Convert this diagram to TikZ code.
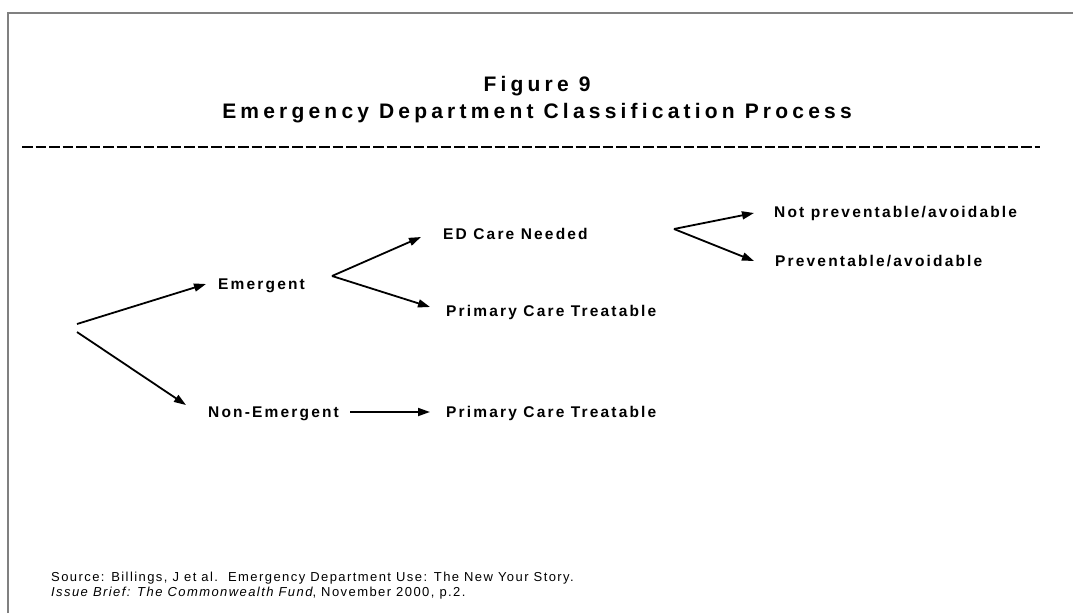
\documentclass[tikz,border=0pt]{standalone}
\usepackage{fontspec}
\setmainfont{Liberation Sans}
\newfontfamily\labfont[LetterSpace=14]{Liberation Sans}
\newfontfamily\titfont[LetterSpace=20]{Liberation Sans}
\newfontfamily\srcfont[LetterSpace=11]{Liberation Sans}
\usetikzlibrary{arrows.meta}
\begin{document}
\begin{tikzpicture}[x=1pt,y=-1pt,
  lab/.style={anchor=base west,inner sep=0pt,font=\labfont\bfseries\fontsize{15.5}{18}\selectfont},
  tit/.style={anchor=center,inner sep=0pt,font=\titfont\bfseries\fontsize{21}{25}\selectfont},
  src/.style={anchor=base west,inner sep=0pt,font=\srcfont\fontsize{13}{15}\selectfont},
  arr/.style={line width=1.8pt,-{Triangle[length=12pt,width=8pt]}},
  frame/.style={line width=2pt,draw=black!50}]
\useasboundingbox (0,0) rectangle (1073,613);
\draw[frame] (8,613) -- (8,13) -- (1073,13);
\node[tit] (t1) at (537,86) {Figure 9};
\node[tit] (t2) at (537,113) {Emergency Department Classification Process};
\coordinate (dl) at (22,147);
\coordinate (dr) at (1040,147);
\draw[line width=1.4pt,dash pattern=on 10.5pt off 3pt] (dl) -- (dr);
% labels
\node[lab] (em) at (218,289) {Emergent};
\node[lab] (ne) at (208,417) {Non-Emergent};
\node[lab] (ed) at (443,239) {ED Care Needed};
\node[lab] (pc1) at (446,316) {Primary Care Treatable};
\node[lab] (pc2) at (446,417) {Primary Care Treatable};
\node[lab] (np) at (774,217) {Not preventable/avoidable};
\node[lab] (pv) at (775,266) {Preventable/avoidable};
% branch points and tips
\coordinate (r1) at (77,324);
\coordinate (r2) at (77,332);
\coordinate (te) at (206,284);
\coordinate (tn) at (186,405);
\coordinate (b1) at (332,276);
\coordinate (ted) at (421,237);
\coordinate (tpc) at (430,307);
\coordinate (b2) at (674,229);
\coordinate (tnp) at (754,213);
\coordinate (tpv) at (754,261);
\coordinate (ns) at (350,412);
\coordinate (tpc2) at (430,412);
\draw[arr] (r1) -- (te);
\draw[arr] (r2) -- (tn);
\draw[arr] (b1) -- (ted);
\draw[arr] (b1) -- (tpc);
\draw[arr] (b2) -- (tnp);
\draw[arr] (b2) -- (tpv);
\draw[arr] (ns) -- (tpc2);
% source
\node[src] (s1) at (51,581) {Source: Billings, J et al.\ \ Emergency Department Use: The New Your Story.};
\node[src] (s2) at (51,596) {\itshape Issue Brief: The Commonwealth Fund\upshape, November 2000, p.2.};
\end{tikzpicture}
\end{document}
